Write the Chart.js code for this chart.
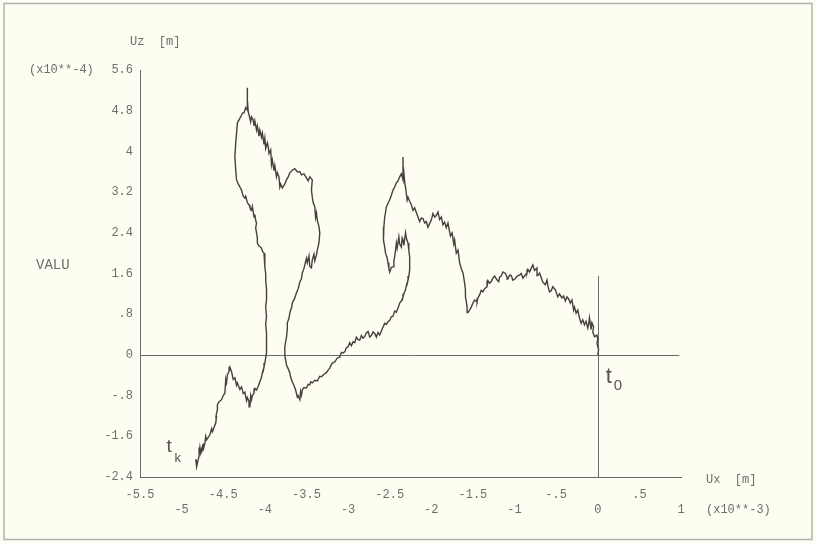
<!DOCTYPE html>
<html>
<head>
<meta charset="utf-8">
<script src="https://cdn.jsdelivr.net/npm/chart.js@4"></script>
<style>
  html, body { margin: 0; padding: 0; background: #fdfdf1; }
  #wrap { width: 816px; height: 543px; }
</style>
</head>
<body>
<div id="wrap"><canvas id="myChart" width="816" height="543"></canvas></div>
<script>
// horizontal displacement Ux (x10**-3 m), in order from t0 to tk
const uxPath = [
  // rise from t0 over the right hump
  0, 0.01, -0.01, 0, -0.01, -0.04, -0.06, -0.05, -0.07, -0.08,
  -0.10, -0.11, -0.12, -0.14, -0.16, -0.18, -0.20, -0.22, -0.23, -0.24,
  -0.26, -0.28, -0.29, -0.31, -0.33, -0.35, -0.37, -0.39, -0.41, -0.43,
  -0.46, -0.48, -0.51, -0.54, -0.56, -0.58, -0.60, -0.61, -0.63, -0.66,
  -0.68, -0.70, -0.72, -0.73, -0.76, -0.78,
  -0.80, -0.82, -0.84, -0.85, -0.88, -0.90, -0.92, -0.94, -0.97, -0.99,
  -1.02, -1.04, -1.06, -1.08, -1.09, -1.11, -1.14, -1.16, -1.18, -1.19,
  -1.21, -1.24, -1.26, -1.28, -1.30, -1.32, -1.33, -1.36, -1.38, -1.40,
  -1.42, -1.44, -1.45, -1.48, -1.50, -1.52, -1.54, -1.56,
  // climb to the middle peak
  -1.57, -1.58, -1.59, -1.59, -1.60, -1.61, -1.62, -1.64, -1.66, -1.67,
  -1.68, -1.70, -1.72, -1.73, -1.75, -1.77, -1.80, -1.82, -1.84, -1.86,
  -1.88, -1.90, -1.92, -1.94, -1.96, -1.98, -2.00, -2.02, -2.04, -2.06,
  -2.08, -2.10, -2.12, -2.14, -2.16, -2.18, -2.20, -2.22, -2.24, -2.26,
  -2.28, -2.29, -2.31, -2.32, -2.33, -2.34,
  // hook below the peak
  -2.34, -2.36, -2.38, -2.40, -2.42, -2.44, -2.46, -2.48, -2.50, -2.52,
  -2.54, -2.55, -2.56, -2.57, -2.58, -2.57, -2.56, -2.55, -2.53, -2.52,
  -2.51, -2.50, -2.48, -2.46, -2.45, -2.44, -2.43, -2.42, -2.41, -2.39,
  -2.38, -2.36, -2.35, -2.34, -2.33, -2.31, -2.30, -2.28, -2.27, -2.26,
  -2.26, -2.26,
  // long slope down to the zero line
  -2.27, -2.28, -2.30, -2.31, -2.33, -2.34, -2.36, -2.38, -2.40, -2.42,
  -2.44, -2.46, -2.48, -2.50, -2.52, -2.54, -2.56, -2.58, -2.60, -2.62,
  -2.64, -2.66, -2.68, -2.70, -2.72, -2.74, -2.76, -2.78, -2.80, -2.82,
  -2.84, -2.86, -2.88, -2.90, -2.92, -2.94, -2.96, -2.98, -3.00, -3.02,
  -3.04, -3.06, -3.08, -3.10,
  -3.13, -3.16, -3.19, -3.21, -3.22, -3.24, -3.26, -3.29, -3.32, -3.34,
  -3.37, -3.40, -3.43, -3.45, -3.46, -3.48, -3.50, -3.53, -3.55, -3.56,
  -3.57, -3.58, -3.60, -3.61,
  // back up through zero to the left hump
  -3.63, -3.65, -3.67, -3.69, -3.70, -3.72, -3.74, -3.75, -3.76, -3.76,
  -3.75, -3.74, -3.73, -3.73, -3.71, -3.70, -3.68, -3.67, -3.64, -3.62,
  -3.60, -3.58, -3.56, -3.55, -3.53, -3.52, -3.50, -3.49, -3.47, -3.46,
  -3.44, -3.43, -3.41, -3.40, -3.38, -3.37, -3.35, -3.34,
  -3.35, -3.37, -3.38, -3.39, -3.40, -3.42, -3.43, -3.44, -3.43, -3.46,
  -3.48, -3.50, -3.53, -3.56, -3.58, -3.61, -3.64, -3.67, -3.70, -3.72,
  -3.74, -3.76, -3.79,
  // ridge to the top peak and the left side of the loop
  -3.81, -3.82, -3.83, -3.85, -3.86, -3.88, -3.89, -3.91, -3.92, -3.93,
  -3.95, -3.96, -3.97, -3.99, -4.00, -4.01, -4.03, -4.04, -4.06, -4.07,
  -4.09, -4.10, -4.12, -4.13, -4.14, -4.16, -4.17, -4.19, -4.20, -4.21,
  -4.21, -4.21, -4.23, -4.25, -4.27, -4.29, -4.31, -4.33, -4.34, -4.35,
  -4.36, -4.35, -4.34, -4.32, -4.30,
  -4.28, -4.27, -4.26, -4.24, -4.23, -4.21, -4.19, -4.18, -4.16, -4.15,
  -4.13, -4.12, -4.11, -4.10, -4.11, -4.10, -4.09, -4.09, -4.07, -4.04,
  -4.03, -4.01, -4.00, -4.00, -3.99, -3.99, -3.98, -3.98, -3.99, -3.98,
  -3.99, -3.98, -3.98, -3.98,
  // below zero, then down to tk
  -3.99, -4.00, -4.01, -4.03, -4.04, -4.06, -4.08, -4.10, -4.12, -4.13,
  -4.15, -4.16, -4.17, -4.18, -4.19, -4.21, -4.22, -4.24, -4.26, -4.28,
  -4.30, -4.33, -4.34, -4.36, -4.38, -4.40, -4.42,
  -4.43, -4.45, -4.46, -4.47, -4.48, -4.50, -4.52, -4.55, -4.57, -4.57,
  -4.58, -4.59, -4.58, -4.59, -4.61, -4.63, -4.64, -4.66, -4.68, -4.70,
  -4.71, -4.72, -4.73, -4.75, -4.74, -4.76, -4.77, -4.78, -4.79, -4.80,
  -4.81, -4.82, -4.83, -4.81, -4.82
];
// vertical displacement Uz (x10**-4 m), same order
const uzPath = [
  0, 0.10, 0.24, 0.30, 0.39, 0.36, 0.45, 0.55, 0.63, 0.50,
  0.73, 0.60, 0.53, 0.66, 0.59, 0.69, 0.62, 0.73, 0.80, 0.88,
  0.82, 0.94, 0.88, 1.08, 1.02, 1.10, 1.14, 1.06, 1.16, 1.12,
  1.20, 1.14, 1.28, 1.34, 1.26, 1.24, 1.36, 1.47, 1.38, 1.43,
  1.52, 1.61, 1.56, 1.71, 1.66, 1.77,
  1.70, 1.63, 1.68, 1.61, 1.55, 1.51, 1.60, 1.57, 1.55, 1.50,
  1.47, 1.56, 1.57, 1.49, 1.53, 1.60, 1.63, 1.55, 1.53, 1.44,
  1.47, 1.55, 1.51, 1.44, 1.41, 1.46, 1.34, 1.30, 1.24, 1.27,
  1.18, 1.12, 1.04, 1.08, 1.02, 0.94, 0.88, 0.83,
  0.94, 1.05, 1.14, 1.28, 1.41, 1.52, 1.61, 1.70, 1.81, 1.95,
  2.06, 2.00, 2.26, 2.18, 2.40, 2.34, 2.59, 2.50, 2.61, 2.56,
  2.71, 2.66, 2.81, 2.74, 2.71, 2.78, 2.65, 2.58, 2.51, 2.62,
  2.59, 2.68, 2.69, 2.62, 2.71, 2.80, 2.89, 2.84, 2.95, 3.02,
  3.10, 3.04, 3.30, 3.40, 3.58, 3.89,
  3.44, 3.56, 3.50, 3.42, 3.38, 3.30, 3.24, 3.14, 3.05, 2.98,
  2.91, 2.80, 2.71, 2.51, 2.38, 2.26, 2.12, 2.00, 1.90, 1.81,
  1.70, 1.63, 1.72, 1.73, 1.85, 1.93, 2.05, 2.20, 2.10, 2.32,
  2.18, 2.12, 2.30, 2.26, 2.15, 2.40, 2.30, 2.20, 2.05, 1.93,
  1.80, 1.67,
  1.55, 1.47, 1.36, 1.28, 1.20, 1.14, 1.06, 1.02, 0.92, 0.84,
  0.86, 0.76, 0.75, 0.68, 0.65, 0.60, 0.62, 0.55, 0.47, 0.39,
  0.44, 0.35, 0.42, 0.45, 0.38, 0.35, 0.46, 0.43, 0.36, 0.33,
  0.38, 0.29, 0.30, 0.35, 0.24, 0.26, 0.18, 0.24, 0.16, 0.14,
  0.06, 0.04, 0.05, -0.04,
  -0.06, -0.14, -0.16, -0.22, -0.26, -0.30, -0.35, -0.38, -0.43, -0.42,
  -0.51, -0.50, -0.55, -0.53, -0.59, -0.58, -0.65, -0.64, -0.69, -0.79,
  -0.72, -0.88, -0.80, -0.83,
  -0.69, -0.60, -0.53, -0.44, -0.35, -0.27, -0.20, -0.10, -0.02, 0.16,
  0.26, 0.35, 0.50, 0.63, 0.72, 0.83, 0.92, 1.02, 1.12, 1.22,
  1.30, 1.43, 1.50, 1.61, 1.70, 1.77, 1.90, 1.81, 1.95, 1.74,
  1.71, 1.87, 1.98, 1.85, 1.96, 2.06, 2.20, 2.40,
  2.52, 2.65, 2.79, 2.70, 2.91, 3.00, 3.10, 3.24, 3.44, 3.50,
  3.42, 3.48, 3.56, 3.54, 3.60, 3.60, 3.66, 3.63, 3.58, 3.50,
  3.44, 3.36, 3.28,
  3.36, 3.30, 3.50, 3.58, 3.50, 3.72, 3.62, 3.83, 3.74, 4.03,
  3.96, 4.10, 4.17, 4.06, 4.26, 4.14, 4.36, 4.28, 4.42, 4.30,
  4.50, 4.42, 4.60, 4.50, 4.62, 4.68, 4.58, 4.72, 4.78, 5.01,
  5.25, 4.81, 4.86, 4.76, 4.75, 4.68, 4.62, 4.56, 4.36, 4.17,
  3.89, 3.63, 3.44, 3.36, 3.30,
  3.24, 3.18, 3.12, 3.08, 3.12, 2.99, 2.95, 2.90, 2.85, 2.92,
  2.71, 2.76, 2.64, 2.59, 2.50, 2.40, 2.30, 2.20, 2.14, 2.10,
  2.04, 2.00, 1.86, 1.73, 1.60, 1.47, 1.30, 1.08, 0.95, 0.75,
  0.60, 0.43, 0.25, 0.04,
  -0.06, -0.16, -0.24, -0.35, -0.44, -0.53, -0.62, -0.69, -0.66, -0.75,
  -0.80, -0.88, -0.80, -1.02, -0.92, -0.84, -0.90, -0.73, -0.76, -0.63,
  -0.68, -0.55, -0.60, -0.45, -0.48, -0.33, -0.24,
  -0.33, -0.39, -0.55, -0.48, -0.75, -0.80, -0.88, -0.92, -0.98, -1.08,
  -1.14, -1.25, -1.20, -1.34, -1.42, -1.51, -1.45, -1.57, -1.62, -1.67,
  -1.60, -1.73, -1.80, -1.87, -1.75, -1.85, -1.93, -1.82, -1.98, -2.06,
  -2.12, -2.20, -2.05, -2.16, -2.10
];

const xTicks = [-5.5, -5, -4.5, -4, -3.5, -3, -2.5, -2, -1.5, -1, -0.5, 0, 0.5, 1];
const yTicks = [-2.4, -1.6, -0.8, 0, 0.8, 1.6, 2.4, 3.2, 4, 4.8, 5.6];

const nPts = Math.min(uxPath.length, uzPath.length);
const points = uxPath.slice(0, nPts).map((x, i) => ({ x: x, y: uzPath[i] }));

const monoFont = 'Liberation Mono, DejaVu Sans Mono, monospace';
const textGrey = '#6e6e6a';

// old plotter style: drop the leading zero (".5", "-.8")
function fmt(v) {
  let s = String(Math.round(v * 10) / 10);
  return s.replace(/^0\./, '.').replace(/^-0\./, '-.');
}

const paper = {
  id: 'paper',
  beforeDraw(chart) {
    const c = chart.ctx;
    c.save();
    c.fillStyle = '#fdfdf1';
    c.fillRect(0, 0, chart.width, chart.height);
    c.strokeStyle = '#b4b4ae';
    c.lineWidth = 1.5;
    c.strokeRect(4, 3.5, chart.width - 8, chart.height - 7);
    c.restore();
  },
  beforeDatasetsDraw(chart) {
    const c = chart.ctx;
    const xs = chart.scales.x, ys = chart.scales.y;
    c.save();
    c.strokeStyle = '#6a6a66';
    c.lineWidth = 1;
    // zero line of Uz
    const y0 = Math.round(ys.getPixelForValue(0)) + 0.5;
    c.beginPath();
    c.moveTo(xs.left, y0);
    c.lineTo(xs.getPixelForValue(0.98), y0);
    c.stroke();
    // zero line of Ux
    const x0 = Math.round(xs.getPixelForValue(0)) + 0.5;
    c.beginPath();
    c.moveTo(x0, ys.bottom);
    c.lineTo(x0, ys.getPixelForValue(1.55));
    c.stroke();
    c.restore();
  },
  afterDraw(chart) {
    const c = chart.ctx;
    const xs = chart.scales.x, ys = chart.scales.y;
    const a = chart.chartArea;
    c.save();
    c.fillStyle = textGrey;
    c.textBaseline = 'middle';
    c.textAlign = 'left';
    c.font = '12px ' + monoFont;
    c.fillText('Uz  [m]', a.left - 10, a.top - 28);
    c.fillText('(x10**-4)', 29, a.top);
    c.fillText('Ux  [m]', a.right + 25, a.bottom + 3);
    c.fillText('(x10**-3)', a.right + 25, a.bottom + 33);
    c.font = '14px ' + monoFont;
    c.fillText('VALU', 36, 265);

    // start / end markers of the path
    const first = points[0], last = points[points.length - 1];
    const px0 = xs.getPixelForValue(first.x), py0 = ys.getPixelForValue(first.y);
    const pxk = xs.getPixelForValue(last.x), pyk = ys.getPixelForValue(last.y);
    c.fillStyle = '#55524e';
    c.textBaseline = 'alphabetic';
    c.font = '22px Liberation Sans, Arial, sans-serif';
    c.fillText('t', px0 + 8, py0 + 28);
    c.font = '15px Liberation Sans, Arial, sans-serif';
    c.fillText('0', px0 + 16, py0 + 35);
    c.font = '19px Liberation Sans, Arial, sans-serif';
    c.fillText('t', pxk - 30, pyk - 10);
    c.font = '13px Liberation Sans, Arial, sans-serif';
    c.fillText('k', pxk - 22, pyk);
    c.restore();
  }
};

const ctx = document.getElementById('myChart').getContext('2d');
const myChart = new Chart(ctx, {
  type: 'scatter',
  data: {
    datasets: [{
      label: 'Uz vs Ux',
      data: points,
      showLine: true,
      borderColor: '#45413d',
      borderWidth: 1.4,
      pointRadius: 0,
      tension: 0
    }]
  },
  options: {
    responsive: false,
    animation: false,
    devicePixelRatio: 1,
    layout: { padding: { top: 70, right: 135, left: 0, bottom: 0 } },
    plugins: { legend: { display: false }, tooltip: { enabled: false } },
    scales: {
      x: {
        type: 'linear',
        min: -5.5,
        max: 1,
        afterFit: (s) => { s.height = 66; },
        afterBuildTicks: (s) => { s.ticks = xTicks.map(v => ({ value: v })); },
        grid: { display: false, drawTicks: false },
        border: { display: true, color: '#6a6a66', width: 1 },
        ticks: {
          autoSkip: false,
          maxRotation: 0,
          padding: 10,
          color: textGrey,
          font: { family: monoFont, size: 12, lineHeight: 15 / 12 },
          // half-unit labels on the upper row, whole units below
          callback: (v) => Math.abs(v % 1) > 0.01 ? [fmt(v), ''] : ['', fmt(v)]
        }
      },
      y: {
        type: 'linear',
        min: -2.4,
        max: 5.6,
        afterFit: (s) => { s.width = 140; },
        afterBuildTicks: (s) => { s.ticks = yTicks.map(v => ({ value: v })); },
        grid: { display: false, drawTicks: false },
        border: { display: true, color: '#6a6a66', width: 1 },
        ticks: {
          autoSkip: false,
          padding: 7,
          color: textGrey,
          font: { family: monoFont, size: 12 },
          callback: (v) => fmt(v)
        }
      }
    }
  },
  plugins: [paper]
});
</script>
</body>
</html>
